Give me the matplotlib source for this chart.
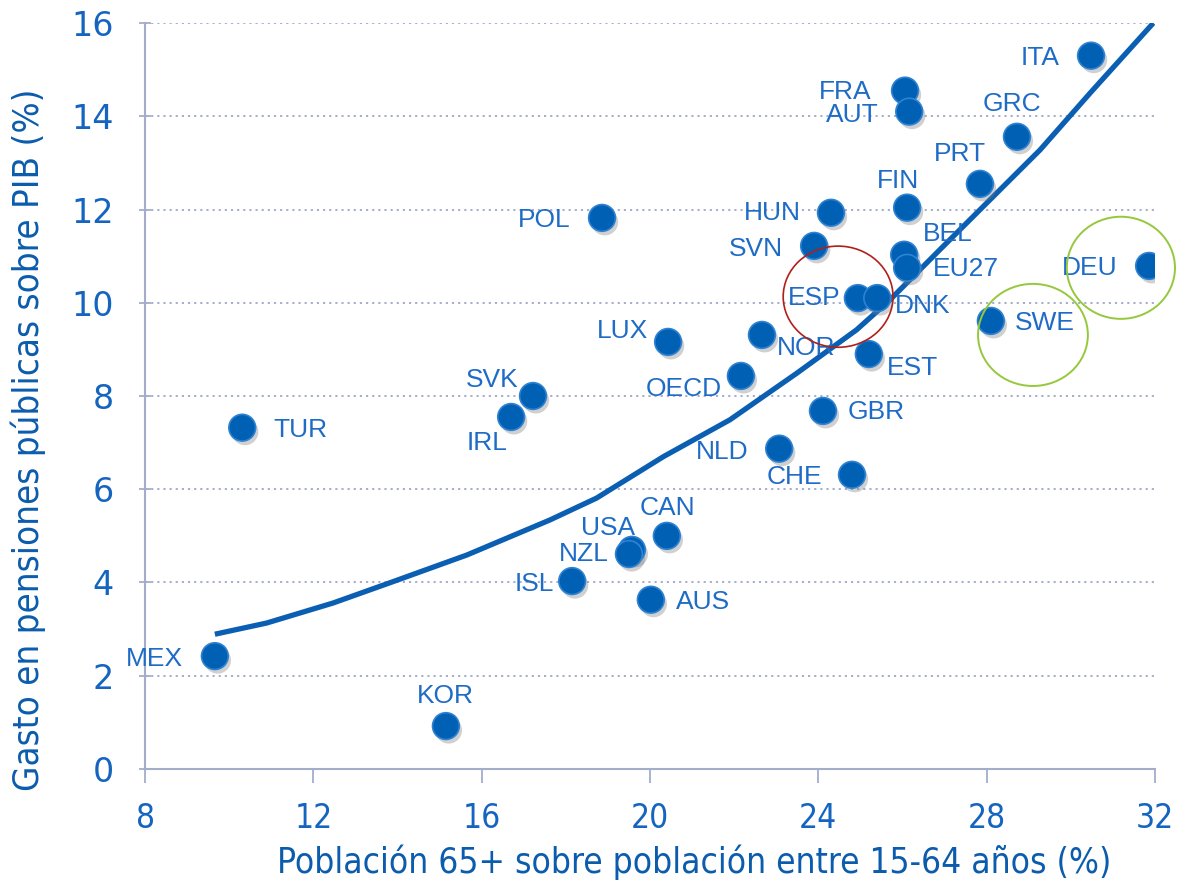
import matplotlib
matplotlib.use("Agg")
import matplotlib.pyplot as plt
import matplotlib.patheffects as pe
from matplotlib.patches import Ellipse

# data
countries = ["ITA", "FRA", "AUT", "GRC", "PRT", "FIN", "HUN", "POL", "SVN", "BEL",
             "EU27", "DEU", "ESP", "DNK", "SWE", "LUX", "NOR", "EST", "OECD", "SVK",
             "IRL", "TUR", "GBR", "NLD", "CHE", "CAN", "USA", "NZL", "ISL", "AUS",
             "MEX", "KOR"]
pop65 = [30.48, 26.06, 26.16, 28.72, 27.84, 26.11, 24.30, 18.86, 23.90, 26.04,
         26.11, 31.86, 24.94, 25.40, 28.10, 20.43, 22.66, 25.20, 22.16, 17.22,
         16.70, 10.31, 24.11, 23.07, 24.80, 20.40, 19.57, 19.50, 18.15, 20.02,
         9.66, 15.15]
gasto = [15.30, 14.55, 14.10, 13.56, 12.55, 12.04, 11.93, 11.82, 11.22, 11.03,
         10.75, 10.79, 10.10, 10.10, 9.61, 9.16, 9.31, 8.90, 8.43, 8.00,
         7.55, 7.32, 7.68, 6.87, 6.31, 5.00, 4.70, 4.61, 4.03, 3.63,
         2.42, 0.92]

# trend line
trend_x = [9.66, 10.89, 12.47, 13.90, 15.65, 17.62, 18.73, 20.32, 21.90, 23.49,
           24.91, 25.70, 26.89, 28.08, 29.27, 30.46, 31.96]
trend_y = [2.89, 3.13, 3.56, 4.02, 4.59, 5.34, 5.81, 6.70, 7.49, 8.49,
           9.42, 10.06, 11.14, 12.21, 13.28, 14.50, 16.00]

# label offsets in pixels (dx, dy) from the marker
offsets = {
    "ITA": (-51, -2), "FRA": (-60, -1), "AUT": (-57, -3), "GRC": (-5, 33),
    "PRT": (-20, 30), "FIN": (-9, 27), "HUN": (-59, 0), "POL": (-58, -2),
    "SVN": (-58, -3), "BEL": (44, 21), "EU27": (59, -1), "DEU": (-59, -2),
    "ESP": (-44, 0), "DNK": (45, -8), "SWE": (54, -2), "LUX": (-46, 11),
    "NOR": (44, -13), "EST": (44, -14), "OECD": (-57, -13), "SVK": (-41, 16),
    "IRL": (-24, -26), "TUR": (58, -2), "GBR": (53, -1), "NLD": (-57, -3),
    "CHE": (-58, -2), "CAN": (1, 28), "USA": (-24, 22), "NZL": (-45, 0),
    "ISL": (-38, -3), "AUS": (52, -2), "MEX": (-60, -3), "KOR": (-1, 30),
}

BLUE = "#0B5FB3"
TXT = "#1E6CC6"
AXC = "#A3ADCB"

fig = plt.figure(figsize=(11.77, 8.86), dpi=100)
ax = fig.add_axes([0.1232, 0.1321, 0.8581, 0.8419])

ax.set_xlim(8, 32); ax.set_ylim(0, 16)
ax.set_xticks(range(8, 33, 4)); ax.set_yticks(range(0, 17, 2))
for y in range(2, 17, 2):
    ax.axhline(y, color="#A0A8C8", lw=1.3, ls=(0, (1.2, 2.2)), zorder=0)

for s in ["top", "right"]:
    ax.spines[s].set_visible(False)
for s in ["left", "bottom"]:
    ax.spines[s].set_color(AXC); ax.spines[s].set_linewidth(1.5)
ax.tick_params(axis="y", direction="inout", length=9, width=1.3, color=AXC,
               labelsize=24, labelcolor="#1565C0", pad=18)
ax.tick_params(axis="x", direction="out", length=10, width=1.3, color=AXC,
               labelsize=24, labelcolor="#1565C0", pad=14)
for t in ax.get_xticklabels():
    t.set_fontstretch("condensed")

ax.plot(trend_x, trend_y, color=BLUE, lw=3.8, solid_capstyle="butt",
        solid_joinstyle="round", zorder=2)

sc = ax.scatter(pop65, gasto, s=370, c="#0061B4", edgecolors="#2F82D2",
                linewidths=1.2, zorder=3)
sc.set_path_effects([pe.SimplePatchShadow(offset=(2, -3), shadow_rgbFace="#7A7A7A",
                                          alpha=0.35), pe.Normal()])

for name, x, y in zip(countries, pop65, gasto):
    dx, dy = offsets[name]
    ax.annotate(name, (x, y), xytext=(dx, dy), textcoords="offset pixels",
                ha="center", va="center", fontsize=19, color=TXT,
                family="Liberation Sans", zorder=4)

ax.add_patch(Ellipse((24.47, 10.13), 2.61, 2.17, fill=False, ec="#B0201A",
                     lw=1.2, zorder=5))
ax.add_patch(Ellipse((31.19, 10.75), 2.57, 2.19, fill=False, ec="#95C83C",
                     lw=1.4, zorder=5, clip_on=False))
ax.add_patch(Ellipse((29.10, 9.31), 2.61, 2.19, fill=False, ec="#95C83C",
                     lw=1.4, zorder=5))

xl = fig.text(694 / 1177, 1 - 862 / 886, "Población 65+ sobre población entre 15-64 años (%)",
              fontsize=27, color="#0B5CAD", fontstretch="condensed", ha="center", va="center")
yl = fig.text(28 / 1177, 1 - 440 / 886, "Gasto en pensiones públicas sobre PIB (%)",
              fontsize=27, color="#0B5CAD", fontstretch="condensed", rotation=90,
              ha="center", va="center")

# shrink the axis titles to the width they take in the reference
r = fig.canvas.get_renderer()
w = xl.get_window_extent(r).width
xl.set_fontsize(27 * min(1.0, 832 / w))
h = yl.get_window_extent(r).height
yl.set_fontsize(27 * min(1.0, 700 / h))

fig.savefig("out.png", dpi=100)
